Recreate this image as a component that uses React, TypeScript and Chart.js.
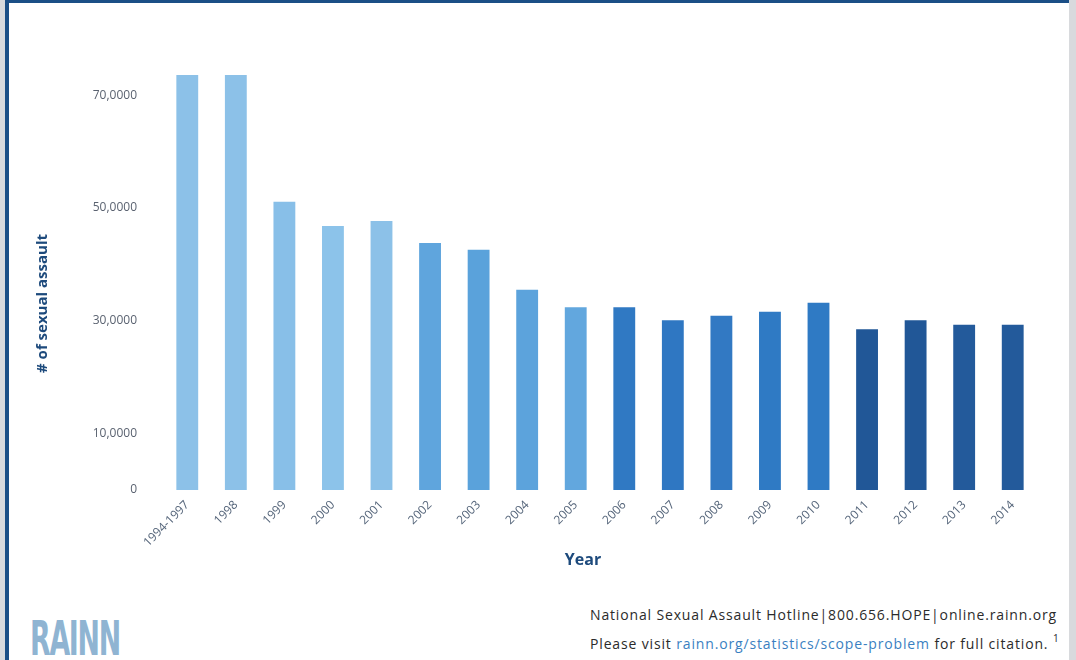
import React, { useEffect, useRef } from "react";
import { Chart, registerables } from "chart.js";

Chart.register(...registerables);

const categories = [
  "1994-1997", "1998", "1999", "2000", "2001", "2002", "2003", "2004", "2005",
  "2006", "2007", "2008", "2009", "2010", "2011", "2012", "2013", "2014",
];
const assaults = [
  736000, 736000, 511000, 468000, 477000, 438000, 426000, 355000, 324000,
  324000, 301000, 309000, 316000, 332000, 285000, 301000, 293000, 293000,
];
const barColors = [
  "#8cc1e8", "#8cc1e8", "#88bfe8", "#8cc3ea", "#8cc1e8", "#5fa5dd", "#5aa2db", "#5ca3dc", "#62a7de",
  "#3079c3", "#2f77c2", "#3279c3", "#2f7ac4", "#2f7ac4", "#215797", "#215797", "#235a9b", "#235a9b",
];
const yTicks = [0, 100000, 300000, 500000, 700000];
const yTickLabels = ["0", "10,0000", "30,0000", "50,0000", "70,0000"];
const yTitle = "# of sexual assault";
const xTitle = "Year";

const axisTitlesPlugin = {
  id: "axisTitlesPlugin",
  afterDraw(chart: any) {
    const { ctx, chartArea } = chart;
    ctx.save();
    ctx.fillStyle = "#1d4a7c";
    ctx.textAlign = "center";
    ctx.textBaseline = "middle";
    ctx.font = "bold 16px 'Open Sans'";
    ctx.fillText(xTitle, (chartArea.left + chartArea.right) / 2 - 17, chartArea.bottom + 70);
    ctx.translate(chartArea.left - 120, (chartArea.top + chartArea.bottom) / 2 + 25);
    ctx.rotate(-Math.PI / 2);
    ctx.font = "bold 15px 'Open Sans'";
    ctx.fillText(yTitle, 0, 0);
    ctx.restore();
  },
};

export default function App() {
  const ref = useRef<HTMLCanvasElement | null>(null);

  useEffect(() => {
    document.body.style.margin = "0";
    const canvas = ref.current;
    if (!canvas) return;
    const chart = new Chart(canvas, {
      type: "bar",
      data: {
        labels: categories,
        datasets: [
          {
            label: yTitle,
            data: assaults,
            backgroundColor: barColors,
            borderWidth: 0,
            barPercentage: 0.45,
            categoryPercentage: 1,
          },
        ],
      },
      plugins: [axisTitlesPlugin],
      options: {
        animation: false,
        responsive: false,
        maintainAspectRatio: false,
        layout: { padding: { left: 30, right: 39, top: 67, bottom: 29 } },
        plugins: { legend: { display: false }, tooltip: { enabled: false } },
        scales: {
          x: {
            grid: { display: false, drawTicks: false },
            border: { display: false },
            ticks: {
              minRotation: 45,
              maxRotation: 45,
              padding: 8,
              color: "#55657a",
              font: { family: "'Open Sans'", size: 12 },
            },
            title: { display: false },
            afterFit: (s: any) => {
              s.height = 81;
            },
          },
          y: {
            min: 0,
            max: 750000,
            grid: { display: false, drawTicks: false },
            border: { display: false },
            afterBuildTicks: (s: any) => {
              s.ticks = yTicks.map((v) => ({ value: v }));
            },
            ticks: {
              padding: 26,
              color: "#5a6270",
              font: { family: "'Open Sans'", size: 12 },
              callback: (v: any) => {
                const i = yTicks.indexOf(Number(v));
                return i >= 0 ? yTickLabels[i] : "";
              },
            },
            title: { display: false },
            afterFit: (s: any) => {
              s.width = 133;
            },
          },
        },
      },
    });
    return () => chart.destroy();
  }, []);

  return (
    <div
      style={{
        position: "fixed",
        left: 0,
        top: 0,
        width: 1076,
        height: 660,
        background: "#d8dadd",
        overflow: "hidden",
        fontFamily: "'Open Sans', sans-serif",
      }}
    >
      <div
        style={{
          position: "absolute",
          left: 5,
          top: 0,
          width: 1064,
          height: 660,
          background: "#ffffff",
          borderLeft: "4px solid #1b4f86",
          borderTop: "3px solid #1b4f86",
          boxSizing: "border-box",
        }}
      />
      <canvas
        ref={ref}
        width={1076}
        height={600}
        style={{ position: "absolute", left: 0, top: 0, width: 1076, height: 600 }}
      />
      <div
        style={{
          position: "absolute",
          left: 30,
          top: 608,
          fontFamily: "'DejaVu Sans Condensed', 'DejaVu Sans', sans-serif",
          fontWeight: "bold",
          fontSize: 48,
          color: "#8fb4d2",
          letterSpacing: -2,
          lineHeight: "60px",
          transform: "scaleX(0.62)",
          transformOrigin: "left top",
          whiteSpace: "nowrap",
        }}
      >
        RAINN
      </div>
      <div
        style={{
          position: "absolute",
          left: 590,
          top: 600,
          fontSize: 14,
          letterSpacing: 0.85,
          color: "#2b2b2b",
          lineHeight: "29px",
          whiteSpace: "nowrap",
        }}
      >
        <div>National Sexual Assault Hotline|800.656.HOPE|online.rainn.org</div>
        <div>
          Please visit <span style={{ color: "#3a7fc1" }}>rainn.org/statistics/scope-problem</span> for full
          citation.{" "}
          <span style={{ fontSize: 10, position: "relative", top: -7, lineHeight: 0 }}>1</span>
        </div>
      </div>
    </div>
  );
}
